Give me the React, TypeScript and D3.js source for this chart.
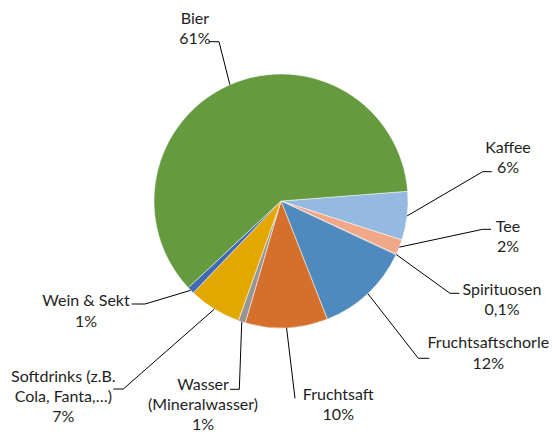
import React from "react";
import * as d3 from "d3";

const categories = [
  "Kaffee",
  "Tee",
  "Spirituosen",
  "Fruchtsaftschorle",
  "Fruchtsaft",
  "Wasser (Mineralwasser)",
  "Softdrinks (z.B. Cola, Fanta,…)",
  "Wein & Sekt",
  "Bier",
];
const values = [6.2, 1.9, 0.1, 12.1, 10.5, 0.9, 6.7, 0.9, 60.8];
const percentLabels = ["6%", "2%", "0,1%", "12%", "10%", "1%", "7%", "1%", "61%"];
const colors = [
  "#95b9e0",
  "#f0a889",
  "#a33b3b",
  "#4f8abf",
  "#d4702b",
  "#959595",
  "#e2a800",
  "#4069b6",
  "#659a3e",
];

// label layout: text lines, text center x, first line center y, elbow, end
const labelLayout = [
  { lines: ["Kaffee"], tx: 508, ty: 147, elbow: [482.7, 171.7], end: [491.7, 171.7] },
  { lines: ["Tee"], tx: 508, ty: 226, elbow: [482.7, 229.3], end: [491, 229.3] },
  { lines: ["Spirituosen"], tx: 502, ty: 289.3, elbow: [450, 293.3], end: [459.3, 293.3] },
  { lines: ["Fruchtsaftschorle"], tx: 488.3, ty: 342.7, elbow: [418.3, 358.3], end: [429.3, 358.3] },
  { lines: ["Fruchtsaft"], tx: 338.3, ty: 394.3, elbow: [295, 398.3], end: [295, 398.3] },
  { lines: ["Wasser", "(Mineralwasser)"], tx: 203, ty: 384.3, elbow: [239.3, 389.3], end: [230, 389.3] },
  { lines: ["Softdrinks (z.B.", "Cola, Fanta,…)"], tx: 63.3, ty: 376, elbow: [123.3, 389], end: [113.3, 389] },
  { lines: ["Wein & Sekt"], tx: 86, ty: 300.7, elbow: [145, 304], end: [131.7, 304] },
  { lines: ["Bier"], tx: 195, ty: 18, elbow: [219, 41.7], end: [208.7, 41.7] },
];

const W = 557;
const H = 432;
const cx = 281;
const cy = 201;
const R = 127;
const startDeg = 85.6;

export default function App() {
  const pie = d3
    .pie<number>()
    .sort(null)
    .value((d) => d)
    .startAngle((startDeg * Math.PI) / 180)
    .endAngle(((startDeg + 360) * Math.PI) / 180);
  const arcs = pie(values);
  const arc = d3.arc<d3.PieArcDatum<number>>().innerRadius(0).outerRadius(R);
  const lineH = 20.2;

  return (
    <div style={{ position: "absolute", left: 0, top: 0, width: W, height: H, overflow: "hidden" }}>
      <svg width={W} height={H} style={{ display: "block", background: "#fff" }}>
        <g transform={`translate(${cx},${cy})`}>
          {arcs.map((a, i) => (
            <path key={i} d={arc(a) || ""} fill={colors[i]} stroke="#ffffff" strokeWidth={0.5} />
          ))}
        </g>
        {arcs.map((a, i) => {
          const mid = (a.startAngle + a.endAngle) / 2;
          const sx = cx + R * Math.sin(mid);
          const sy = cy - R * Math.cos(mid);
          const L = labelLayout[i];
          const pts: [number, number][] = [
            [sx, sy],
            [L.elbow[0], L.elbow[1]],
            [L.end[0], L.end[1]],
          ];
          const line = d3.line()(pts) || "";
          const all = [...L.lines, percentLabels[i]];
          return (
            <g key={`l${i}`}>
              <path d={line} fill="none" stroke="#000" strokeWidth={1} />
              {all.map((t, j) => (
                <text
                  key={j}
                  x={L.tx}
                  y={L.ty + j * lineH}
                  dy="0.36em"
                  textAnchor="middle"
                  fontFamily="Lato, 'Open Sans', sans-serif"
                  fontSize={16}
                  fill="#1e1e1e"
                >
                  {t}
                </text>
              ))}
            </g>
          );
        })}
      </svg>
    </div>
  );
}
